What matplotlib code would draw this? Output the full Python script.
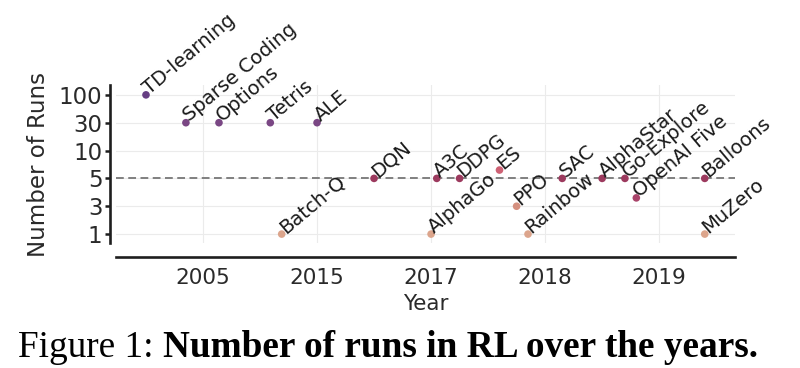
#! /usr/bin/env python3

import numpy as np
import matplotlib
matplotlib.use("Agg")
import matplotlib.pyplot as plt
from matplotlib.colors import LinearSegmentedColormap

# data (year is fractional, runs on the y axis)
names = ['TD-learning', 'Sparse Coding', 'Options', 'Tetris', 'Batch-Q', 'ALE',
         'DQN', 'AlphaGo', 'A3C', 'DDPG', 'ES', 'PPO', 'Rainbow', 'SAC',
         'AlphaStar', 'Go-Explore', 'OpenAI Five', 'Balloons', 'MuZero']
years = [2000.0, 2003.5, 2006.4, 2010.9, 2011.9, 2015.0,
         2016.0, 2017.0, 2017.05, 2017.25, 2017.6, 2017.75, 2017.85, 2018.15,
         2018.5, 2018.7, 2018.8, 2019.4, 2019.4]
runs = [100, 30, 30, 30, 1, 30,
        5, 1, 5, 5, 6.5, 3, 1, 5,
        5, 5, 3.6, 5, 1]

year_ticks = [2005, 2015, 2017, 2018, 2019]
run_ticks = [1, 3, 5, 10, 30, 100]


def piecewise(knots):
    # evenly spaced ticks, linear in between, extended past the ends
    knots = np.asarray(knots, dtype=float)
    pos = np.arange(len(knots), dtype=float)

    def fwd(v):
        v = np.asarray(v, dtype=float)
        out = np.interp(v, knots, pos)
        lo = v < knots[0]
        hi = v > knots[-1]
        out = np.where(lo, (v - knots[0]) / (knots[1] - knots[0]), out)
        out = np.where(hi, pos[-1] + (v - knots[-1]) / (knots[-1] - knots[-2]), out)
        return out

    def inv(p):
        p = np.asarray(p, dtype=float)
        out = np.interp(p, pos, knots)
        out = np.where(p < 0, knots[0] + p * (knots[1] - knots[0]), out)
        out = np.where(p > pos[-1], knots[-1] + (p - pos[-1]) * (knots[-1] - knots[-2]), out)
        return out

    return fwd, inv


xf, xi = piecewise(year_ticks)
yf, yi = piecewise(run_ticks)

cmap = LinearSegmentedColormap.from_list('runs', [
    (0.0, '#dca58c'), (0.2, '#d5907f'), (0.26, '#a8426a'), (0.4, '#9c3a5e'),
    (0.46, '#cf6274'), (0.6, '#8a4272'), (0.8, '#7a4784'), (1.0, '#663e83')])

fig = plt.figure(figsize=(8, 3.68), dpi=100)
ax = fig.add_axes([0.145, 0.3397, 0.774, 0.429])
ax.set_xscale('function', functions=(xf, xi))
ax.set_yscale('function', functions=(yf, yi))

ax.grid(True, color='#ebebeb', lw=0.8)
ax.set_axisbelow(True)
ax.axhline(5, color='#808080', lw=1.4, ls=(0, (4, 2.3)), zorder=1)

col = cmap(yf(runs) / 5.0)
ax.scatter(years, runs, s=30, c=col, linewidths=0, zorder=3)

for n, x, y in zip(names, years, runs):
    ax.annotate(n, (x, y), xytext=(2.5, 0.3), textcoords='offset points',
                rotation=40, rotation_mode='anchor', ha='left', va='baseline',
                fontsize=14, color='#1a1a1a', zorder=4)

ax.set_xticks(year_ticks)
ax.set_xticklabels([str(t) for t in year_ticks])
ax.set_yticks(run_ticks)
ax.set_yticklabels([str(t) for t in run_ticks])
ax.minorticks_off()
ax.set_xlim(xi(-0.763), xi(4.667))
ax.set_ylim(yi(-0.32), yi(5.35))

for s in ['top', 'right']:
    ax.spines[s].set_visible(False)
ax.spines['left'].set_position(('outward', 4.3))
ax.spines['bottom'].set_position(('outward', 9.9))
for s in ['left', 'bottom']:
    ax.spines[s].set_linewidth(1.9)
    ax.spines[s].set_color('#1e1e1e')
ax.tick_params(axis='y', length=3.5, width=1.8, color='#1e1e1e',
               labelsize=16.5, labelcolor='#2a2a2a', pad=2)
ax.tick_params(axis='x', length=0, labelsize=15.5, labelcolor='#2a2a2a', pad=8)

ax.set_xlabel('Year', fontsize=15.5, color='#2a2a2a', labelpad=4.5)
ax.set_ylabel('Number of Runs', fontsize=16.5, color='#2a2a2a', labelpad=6)

t1 = fig.text(18 / 800, 1 - 357 / 368, 'Figure 1: ', family='Liberation Serif',
              fontsize=26.8, va='baseline', ha='left')
ax.annotate('Number of runs in RL over the years.', xy=(1, 0), xycoords=t1,
            ha='left', va='bottom', family='Liberation Serif', fontsize=26.8,
            fontweight='bold', annotation_clip=False)

fig.savefig('out.png', dpi=100)
